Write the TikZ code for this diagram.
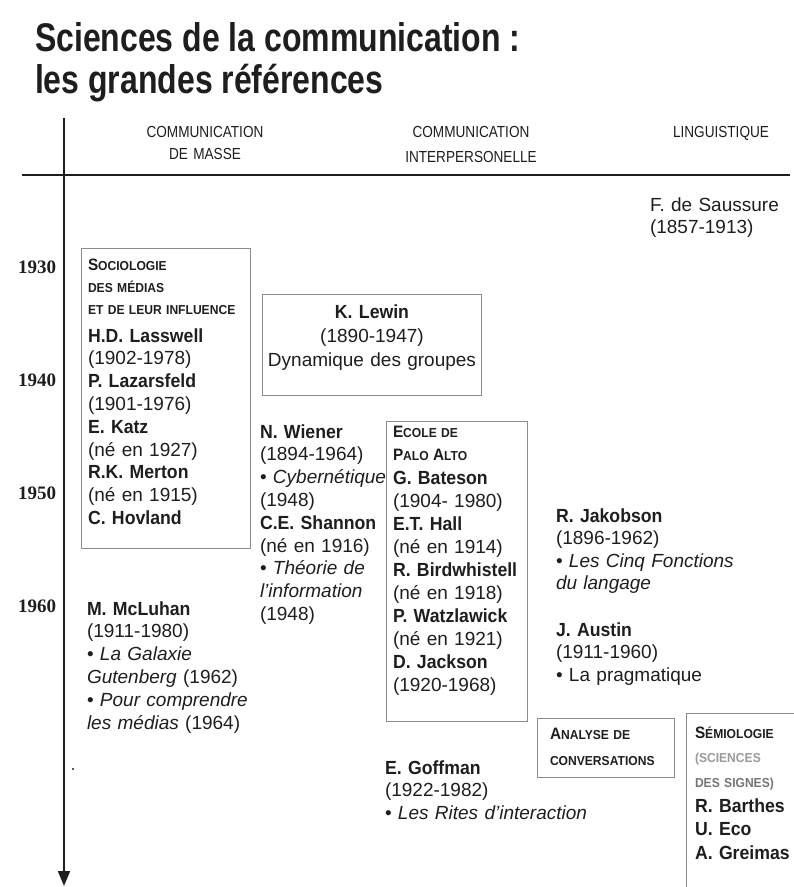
\documentclass[tikz,border=0pt]{standalone}
\usepackage{fontspec}
\setmainfont{Liberation Sans}[BoldFeatures={FakeStretch=0.93}]
\newfontfamily\titlefont[FakeStretch=0.8]{Liberation Sans}
\newfontfamily\headfont[FakeStretch=0.85]{Liberation Sans}
\newfontfamily\yearfont{Liberation Serif}
\usetikzlibrary{arrows.meta}
\definecolor{ink}{HTML}{1E1E1E}
\definecolor{framegray}{HTML}{8A8A8A}
\definecolor{fadedink}{HTML}{9A9A9A}
% larger initial letter for the small-capital headings
\newcommand\bigini[1]{{\fontsize{16.5}{16.5}\selectfont #1}}

\begin{document}
\begin{tikzpicture}[x=1pt,y=-1pt,
  every node/.style={inner sep=0pt, outer sep=0pt, text=ink},
  title/.style={anchor=base west, font=\titlefont\bfseries\fontsize{40}{40}\selectfont},
  colhead/.style={anchor=base, align=center, text width=200pt, font=\headfont\fontsize{16}{#1}\selectfont},
  colhead/.default=22,
  year/.style={anchor=base west, font=\yearfont\bfseries\fontsize{19}{19}\selectfont},
  entry/.style={anchor=base west, align=left, text width=260pt, font=\fontsize{19}{#1}\selectfont},
  entry/.default=22.8,
  smallcap/.style={anchor=base west, align=left, text width=200pt, font=\bfseries\fontsize{13}{#1}\selectfont},
  smallcap/.default=22,
  frame/.style={draw=framegray, line width=0.9pt, anchor=north west},
  frameline/.style={draw=framegray, line width=0.9pt},
  axis/.style={draw=ink, line width=1.8pt, -{Triangle[width=12pt,length=15pt]}},
  hrule/.style={draw=ink, line width=1.3pt}]

\useasboundingbox (0,0) rectangle (794,887);

% title
\node[title] (title1) at (35,51) {Sciences de la communication :};
\node[title] (title2) at (35,93) {les grandes références};

% time axis and header rule
\coordinate (axtop) at (64,118);
\coordinate (axend) at (64,886);
\draw[axis] (axtop) -- (axend);
\coordinate (rulel) at (22,175);
\coordinate (ruler) at (790,175);
\draw[hrule] (rulel) -- (ruler);

% column headings
\node[colhead] (hmasse) at (205,137) {COMMUNICATION\\DE MASSE};
\node[colhead=25] (hinter) at (471,137) {COMMUNICATION\\INTERPERSONELLE};
\node[colhead] (hling) at (721,137) {LINGUISTIQUE};

% decades
\node[year] (y1930) at (18,273) {1930};
\node[year] (y1940) at (18,386) {1940};
\node[year] (y1950) at (18,499) {1950};
\node[year] (y1960) at (18,612) {1960};

% frames
\node[frame, minimum width=169pt, minimum height=300pt] (socbox) at (81,248) {};
\node[frame, minimum width=219pt, minimum height=101pt] (lewinbox) at (262,294) {};
\node[frame, minimum width=141pt, minimum height=300pt] (paloaltobox) at (386,421) {};
\node[frame, minimum width=137pt, minimum height=59pt] (analysebox) at (537,718) {};
\coordinate (semtl) at (686,713);
\coordinate (semtr) at (796,713);
\coordinate (sembl) at (686,889);
\draw[frameline] (semtr) -- (semtl) -- (sembl);

% linguistics
\node[entry=22] (saussure) at (650,211) {F. de Saussure\\(1857-1913)};

% mass communication
\node[smallcap] (sochead) at (88,270) {\bigini{S}OCIOLOGIE\\DES MÉDIAS\\ET DE LEUR INFLUENCE};
\node[entry] (socnames) at (88,342) {\textbf{H.D. Lasswell}\\(1902-1978)\\\textbf{P. Lazarsfeld}\\(1901-1976)\\\textbf{E. Katz}\\(né en 1927)\\\textbf{R.K. Merton}\\(né en 1915)\\\textbf{C. Hovland}};
\node[entry] (mcluhan) at (87,615) {\textbf{M. McLuhan}\\(1911-1980)\\• \textit{La Galaxie}\\\textit{Gutenberg} (1962)\\• \textit{Pour comprendre}\\\textit{les médias} (1964)};
\node[circle, fill=ink, minimum size=2.4pt] (dot) at (73,769) {};

% interpersonal communication
\node[anchor=base, align=center, text width=220pt, font=\fontsize{19}{24}\selectfont] (lewin) at (372,318) {\textbf{K. Lewin}\\(1890-1947)\\Dynamique des groupes};
\node[entry] (wiener) at (260,438) {\textbf{N. Wiener}\\(1894-1964)\\• \textit{Cybernétique}\\(1948)\\\textbf{C.E. Shannon}\\(né en 1916)\\• \textit{Théorie de}\\\textit{l'information}\\(1948)};
\node[smallcap=23] (pahead) at (393,437) {\bigini{E}COLE DE\\\bigini{P}ALO \bigini{A}LTO};
\node[entry=23] (panames) at (393,484) {\textbf{G. Bateson}\\(1904- 1980)\\\textbf{E.T. Hall}\\(né en 1914)\\\textbf{R. Birdwhistell}\\(né en 1918)\\\textbf{P. Watzlawick}\\(né en 1921)\\\textbf{D. Jackson}\\(1920-1968)};
\node[entry] (goffman) at (385,774) {\textbf{E. Goffman}\\(1922-1982)\\• \textit{Les Rites d'interaction}};

% linguistics, continued
\node[entry=22.5] (jakobson) at (556,522) {\textbf{R. Jakobson}\\(1896-1962)\\• \textit{Les Cinq Fonctions}\\\textit{du langage}};
\node[entry=22.5] (austin) at (556,636) {\textbf{J. Austin}\\(1911-1960)\\• La pragmatique};
\node[smallcap=26] (analyse) at (550,739) {\bigini{A}NALYSE DE\\CONVERSATIONS};
\node[smallcap=24.5] (semhead) at (695,738) {\bigini{S}ÉMIOLOGIE\\\textcolor{fadedink}{(SCIENCES}\\\textcolor{fadedink!70!ink}{DES SIGNES)}};
\node[entry=23.5] (semnames) at (695,812) {\textbf{R. Barthes}\\\textbf{U. Eco}\\\textbf{A. Greimas}};

\end{tikzpicture}
\end{document}
